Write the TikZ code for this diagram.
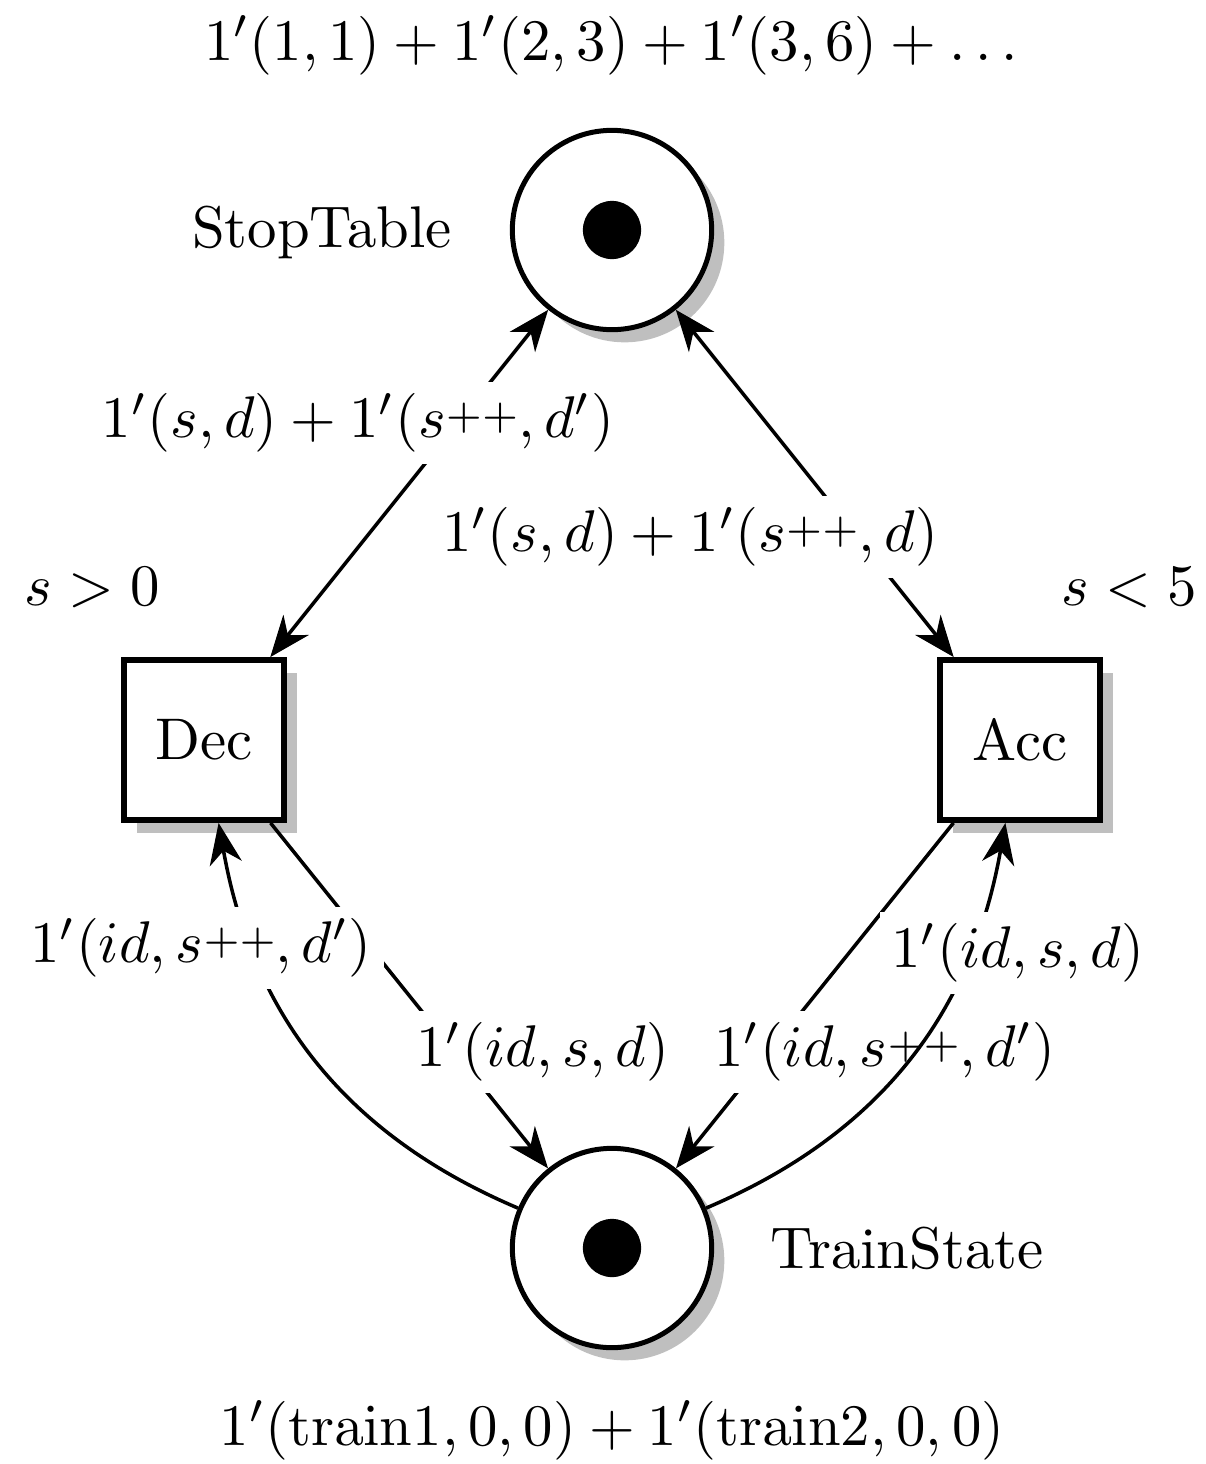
\documentclass[tikz,border=0pt]{standalone}
\usepackage{amsmath}
\usetikzlibrary{arrows.meta,shadows}
\newcommand{\pplus}{\mathord{\raisebox{1.5pt}{$\scriptstyle++$}}}
\begin{document}
\begin{tikzpicture}[x=0.17007pt,y=-0.17007pt,
  place/.style={circle,draw,line width=0.85pt,fill=white,minimum size=33.9pt,inner sep=0pt,drop shadow},
  trans/.style={rectangle,draw,line width=1pt,fill=white,minimum size=27.2pt,inner sep=0pt,drop shadow},
  tok/.style={circle,fill=black,minimum size=9.9pt,inner sep=0pt},
  tip/.tip={Stealth[length=7pt,width=5.5pt,inset=2.2pt]},
  arc/.style={line width=0.6pt,-tip},
  biarc/.style={line width=0.6pt,tip-tip},
  lab/.style={fill=white,inner sep=2pt},
  txt/.style={inner sep=0pt,anchor=base}
]
\useasboundingbox (0,0) rectangle (1206,1464);

\node[place] (stop) at (612,230) {};
\node[tok] (stoptok) at (stop.center) {};
\node[place] (ts) at (612,1248) {};
\node[tok] (tstok) at (ts.center) {};
\node[trans] (dec) at (204,740) {Dec};
\node[trans] (acc) at (1020,740) {Acc};

\node[txt] (stoplab) at (322,247) {StopTable};
\node[txt] (tslab) at (907,1268) {TrainState};
\node[txt] (stopinit) at (611,60) {$1'(1,1)+1'(2,3)+1'(3,6)+\ldots$};
\node[txt] (tsinit) at (612,1445) {$1'(\mathrm{train1},0,0)+1'(\mathrm{train2},0,0)$};
\node[txt] (decguard) at (92,605) {$s>0$};
\node[txt] (accguard) at (1129,605) {$s<5$};

\draw[biarc] (dec) -- (stop);
\node[lab] (l1) at (358,423) {$1'(s,d)+1'(s\pplus,d')$};
\draw[biarc] (acc) -- (stop);
\node[lab] (l2) at (690,537) {$1'(s,d)+1'(s\pplus,d)$};
\draw[arc] (dec) -- (ts);
\node[lab] (l3) at (543,1052) {$1'(id,s,d)$};
\draw[arc] (ts) to[out=157,in=-80] (dec);
\node[lab] (l4) at (201,948) {$1'(id,s\pplus,d')$};
\draw[arc] (acc) -- (ts);
\node[lab] (l5) at (885,1052) {$1'(id,s\pplus,d')$};
\draw[arc] (ts) to[out=23,in=-100] (acc);
\node[lab] (l6) at (1018,953) {$1'(id,s,d)$};
\end{tikzpicture}
\end{document}
